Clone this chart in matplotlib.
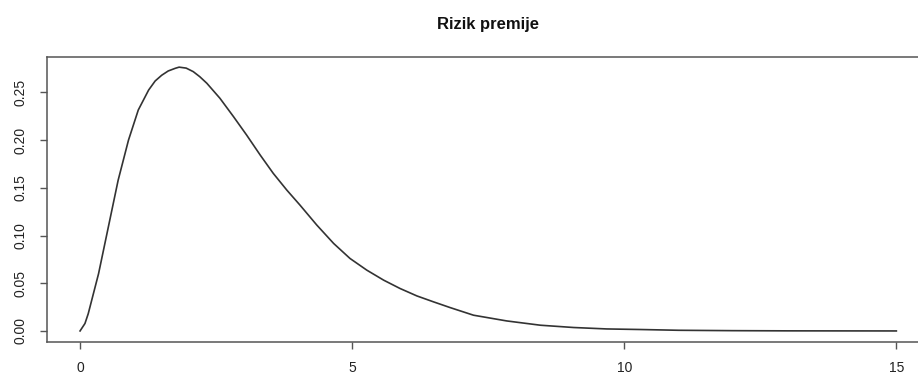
import matplotlib
matplotlib.use('Agg')
import matplotlib.pyplot as plt
from matplotlib import rcParams

rcParams['font.family'] = ['Liberation Sans', 'DejaVu Sans']

# 곡선 값
x_vals = [0.0, 0.09, 0.15, 0.34, 0.52, 0.70, 0.89, 1.07, 1.26, 1.38, 1.50,
          1.62, 1.75, 1.82, 1.95, 2.08, 2.20, 2.33, 2.57, 2.82, 3.06, 3.31,
          3.55, 3.80, 4.04, 4.35, 4.66, 4.96, 5.27, 5.58, 5.88, 6.19, 6.50,
          6.80, 7.23, 7.84, 8.46, 9.07, 9.68, 10.3, 11.0, 12.0, 13.0, 14.0, 15.0]
y_vals = [0.0, 0.0078, 0.018, 0.060, 0.109, 0.158, 0.200, 0.2316, 0.2525, 0.262, 0.268,
          0.2725, 0.2753, 0.2765, 0.2755, 0.2718, 0.2665, 0.2596, 0.2439, 0.2246, 0.2054, 0.1844,
          0.1652, 0.1476, 0.132, 0.111, 0.0917, 0.076, 0.0637, 0.0532, 0.0445, 0.0367, 0.0304,
          0.0245, 0.0165, 0.0105, 0.006, 0.0036, 0.0021, 0.0015, 0.0007, 0.0003, 0.0001, 0.00005, 0.0]

x_ticks = [0, 5, 10, 15]
y_ticks = [0.00, 0.05, 0.10, 0.15, 0.20, 0.25]
title = 'Rizik premije'

fig = plt.figure(figsize=(9.18, 3.74), dpi=100)
# R 스타일: 박스가 오른쪽에서 잘림
ax = fig.add_axes([47.4 / 918, (374 - 341.5) / 374, (929 - 47.4) / 918, (341.5 - 56.6) / 374])

ax.plot(x_vals, y_vals, color='#333333', linewidth=1.2)

ymax = max(y_vals)
ax.set_xlim(-0.6, 15.6)
ax.set_ylim(-0.04 * ymax, 1.04 * ymax)

ax.set_xticks(x_ticks)
ax.set_xticklabels([str(t) for t in x_ticks])
ax.set_yticks(y_ticks)
ax.set_yticklabels([f'{t:.2f}' for t in y_ticks], rotation=90, va='center')

ax.tick_params(axis='both', direction='out', length=5, width=1, color='#555555',
               labelsize=10, labelcolor='#222222', pad=9)
for s in ax.spines.values():
    s.set_color('#555555')
    s.set_linewidth(1.1)

fig.text((47.4 + 929) / 2 / 918, 1 - 24 / 374, title, ha='center', va='center',
         fontsize=12, fontweight='bold', color='#111111')

fig.savefig('out.png', dpi=100)
plt.close()
